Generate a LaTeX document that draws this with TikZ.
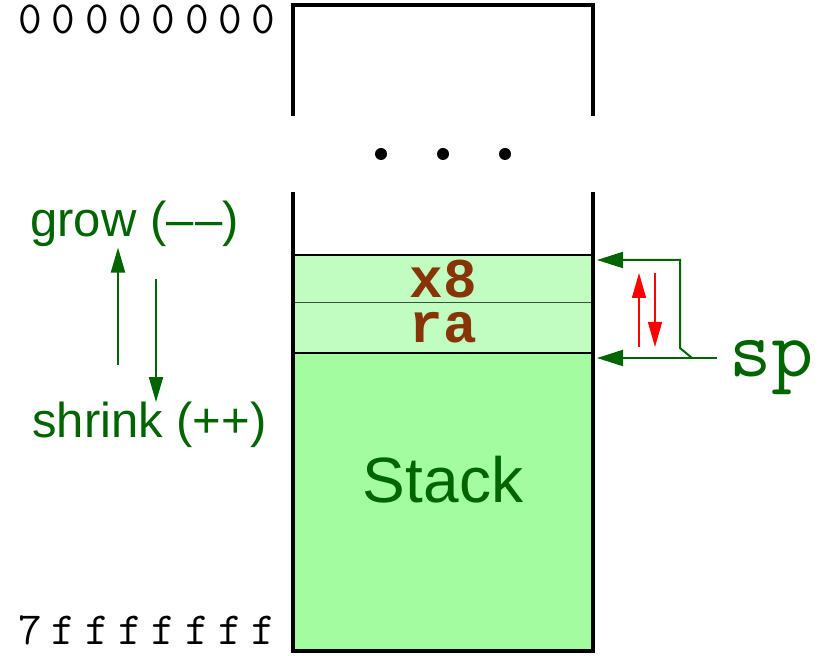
\documentclass[tikz,border=0pt]{standalone}
\usepackage{fontspec}
\setmainfont{Liberation Sans}
\setsansfont{Liberation Sans}
\newfontfamily\cellfont{Liberation Mono}
\newfontfamily\addrfont[LetterSpace=21]{Latin Modern Mono}
\newfontfamily\spfont{Latin Modern Mono}
\usetikzlibrary{positioning,arrows.meta,calc}
\definecolor{StackInk}{HTML}{006400}
\definecolor{StackCell}{HTML}{C1FDC0}
\definecolor{StackFill}{HTML}{A3FDA0}
\definecolor{StackBrown}{HTML}{863408}
\definecolor{StackRule}{HTML}{3C503C}
\tikzset{
  stackWall/.style={line width=2pt, draw=black, line join=miter},
  cellEdge/.style={line width=1pt, draw=black},
  cellSplit/.style={line width=0.5pt, draw=StackRule},
  cellBox/.style={fill=StackCell, minimum width=150pt, inner sep=0pt, outer sep=0pt},
  cellLbl/.style={inner sep=0pt, text=StackBrown,
    font=\cellfont\bfseries\fontsize{28}{30}\selectfont},
  stackArea/.style={fill=StackFill, minimum width=150pt, minimum height=149pt,
    inner sep=0pt, outer sep=0pt},
  addrLbl/.style={anchor=base west, inner sep=0pt, font=\addrfont\fontsize{23}{25}\selectfont},
  dirLbl/.style={anchor=base west, inner sep=0pt, text=StackInk,
    font=\sffamily\fontsize{24.5}{28}\selectfont},
  spLbl/.style={anchor=base west, inner sep=0pt, text=StackInk,
    font=\spfont\fontsize{41}{44}\selectfont},
  growArrow/.style={-{Triangle[length=12.5pt,width=7pt]}, line width=1pt, draw=StackInk},
  spArrow/.style={-{Triangle[length=13pt,width=8pt]}, line width=1pt, draw=StackInk},
}

\begin{document}
\begin{tikzpicture}[
  x=0.5pt, y=-0.5pt,
  moveArrow/.style={-{Triangle[length=12.5pt,width=7pt]}, line width=0.7pt, draw=red},
]
  \useasboundingbox (0,0) rectangle (829,656);

  % stack contents
  \node[cellBox, minimum height=24pt] (x8) at (443,279) {};
  \node[cellBox, minimum height=25pt] (ra) at (443,328) {};
  \node[stackArea] (stackArea) at (443,502) {};
  \node[cellLbl] (x8Lbl) at (x8) {x8};
  \node[cellLbl] (raLbl) at (ra) {ra};
  \node[text=StackInk, font=\sffamily\fontsize{32}{36}\selectfont] (stackLbl) at (443,480) {Stack};

  \draw[cellEdge] (x8.north west) -- (x8.north east);
  \draw[cellSplit] (x8.south west) -- (x8.south east);
  \draw[cellEdge] (ra.south west) -- (ra.south east);

  % walls, broken by the gap
  \draw[stackWall] (293,116) -- (293,5) -- (593,5) -- (593,116);
  \draw[stackWall] (293,192) -- (stackArea.south west) -- (stackArea.south east) -- (593,192);
  \foreach \dx in {381,443,505}
    \fill (\dx,154) circle[radius=6];

  % addresses
  \node[addrLbl] (addrLow) at (18,34) {00000000};
  \node[addrLbl] (addrHigh) at (18,645) {7fffffff};

  % direction of growth
  \node[dirLbl] (grow) at (30,237) {grow (–\kern1pt–)};
  \node[dirLbl] (shrink) at (32,438) {shrink (++)};
  \coordinate (growTail) at (118,365);
  \coordinate (shrinkTail) at (156,279);
  \draw[growArrow] (growTail) -- (growTail |- grow.south);
  \draw[growArrow] (shrinkTail) -- (shrinkTail |- shrink.north);

  % stack pointer
  \node[spLbl] (sp) at (729,377) {sp};
  \coordinate (spFoot) at (717,358);
  \coordinate (spKnee) at (692,358);
  \coordinate (spTop) at ($(x8.north east)+(4,5)$);
  \coordinate (spBot) at ($(ra.south east)+(4,5)$);
  \draw[spArrow] (spFoot) -- (spBot);
  \draw[spArrow] (spKnee) -- ++(-12,-10) |- (spTop);

  % push / pop
  \coordinate (pushTail) at (639,347);
  \coordinate (popTail) at (655,273);
  \draw[moveArrow] (pushTail) -- (pushTail |- popTail);
  \draw[moveArrow] (popTail) -- (popTail |- pushTail);
\end{tikzpicture}
\end{document}
